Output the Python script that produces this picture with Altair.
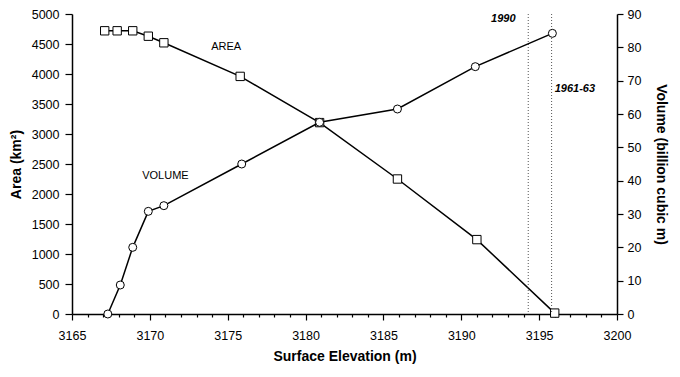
import altair as alt
import pandas as pd

# ---- data ----
area_elev = [3167.1, 3167.9, 3168.9, 3169.9, 3170.9, 3175.8, 3180.9, 3185.9, 3191.0, 3196.0]
area_km2 = [4720, 4720, 4720, 4630, 4520, 3960, 3190, 2250, 1240, 15]

vol_elev = [3167.3, 3168.1, 3168.9, 3169.9, 3170.9, 3175.9, 3180.9, 3185.9, 3190.9, 3195.85]
vol_bcm = [0, 8.7, 20, 30.8, 32.5, 45, 57.5, 61.5, 74.2, 84.2]

ref_elev = [3194.3, 3195.8]

label_text = ["AREA", "VOLUME"]
label_x = [3174.9, 3171.0]
label_y = [4450, 2300]

year_text = ["1990", "1961-63"]
year_x = [3192.7, 3196.0]
year_y = [4910, 3750]
year_align = ["center", "left"]

x_ticks = list(range(3165, 3201))
area_ticks = list(range(0, 5001, 500))
vol_ticks = list(range(0, 91, 10))

FONT = "Liberation Sans"

area_df = pd.DataFrame({"elev": area_elev, "area": area_km2})
vol_df = pd.DataFrame({"elev": vol_elev, "vol": vol_bcm})
ref_df = pd.DataFrame({"elev": ref_elev})
lab_df = pd.DataFrame({"elev": label_x, "area": label_y, "t": label_text})
yr_df = pd.DataFrame({"elev": year_x, "area": year_y, "t": year_text, "a": year_align})

x_scale = alt.Scale(domain=[3165, 3200], nice=False, zero=False)
area_scale = alt.Scale(domain=[0, 5000], nice=False)

x_axis = alt.Axis(
    values=x_ticks,
    labelExpr="datum.value % 5 === 0 ? datum.label : ''",
    format="d",
    tickSize={"condition": {"test": "datum.value % 5 === 0", "value": 6}, "value": 3},
    title="Surface Elevation (m)",
    titleFontSize=14, titleFontWeight="bold", titlePadding=8,
    labelFontSize=12.5, labelPadding=9, grid=False,
    labelOverlap=False, labelFlush=False,
)
area_axis = alt.Axis(values=area_ticks, title="Area (km²)", titleFontSize=14,
                     titleFontWeight="bold", titlePadding=8, labelFontSize=12.5,
                     tickSize=7, labelPadding=6, grid=False, format="d",
                     labelOverlap=False)

xenc = alt.X("elev:Q", scale=x_scale, axis=x_axis)
area_y = alt.Y("area:Q", scale=area_scale, axis=area_axis)

area_line = alt.Chart(area_df).mark_line(color="black", strokeWidth=1.5).encode(x=xenc, y=area_y)
area_pts = alt.Chart(area_df).mark_point(shape="square", filled=True, fill="white",
                                         stroke="black", strokeWidth=1, size=70, opacity=1).encode(x=xenc, y=area_y)

rules = alt.Chart(ref_df).mark_rule(color="#555555", strokeDash=[1, 2], strokeWidth=1).encode(x=xenc)

labels = alt.Chart(lab_df).mark_text(font=FONT, fontSize=11, color="black").encode(
    x=xenc, y=area_y, text="t:N")

years_c = alt.Chart(yr_df[yr_df.a == "center"]).mark_text(
    font=FONT, fontSize=11, fontStyle="italic", fontWeight="bold", color="black", align="center").encode(
    x=xenc, y=area_y, text="t:N")
years_l = alt.Chart(yr_df[yr_df.a == "left"]).mark_text(
    font=FONT, fontSize=11, fontStyle="italic", fontWeight="bold", color="black", align="left").encode(
    x=xenc, y=area_y, text="t:N")

vol_y = alt.Y(
    "vol:Q",
    scale=alt.Scale(domain=[0, 90], nice=False),
    axis=alt.Axis(orient="right", values=vol_ticks, title="Volume (billion cubic m)",
                  titleFontSize=14, titleFontWeight="bold", titlePadding=13,
                  labelFontSize=12.5, tickSize=6, labelPadding=4, grid=False, format="d",
                  labelOverlap=False),
)

vol_line = alt.Chart(vol_df).mark_line(color="black", strokeWidth=1.5).encode(x=xenc, y=vol_y)
vol_pts = alt.Chart(vol_df).mark_point(shape="circle", filled=True, fill="white",
                                       stroke="black", strokeWidth=1, size=64, opacity=1).encode(x=xenc, y=vol_y)

left = alt.layer(area_line, area_pts, rules, labels, years_c, years_l)
right = alt.layer(vol_line, vol_pts)

chart = alt.layer(left, right).resolve_scale(y="independent").properties(
    width=545, height=300,
    padding={"left": 1, "top": 0, "right": 2, "bottom": 0},
    background="white",
).configure_view(stroke=None).configure_axis(
    labelFont=FONT, titleFont=FONT, labelColor="black", titleColor="black",
    domainColor="black", tickColor="black", domainWidth=1.5, tickWidth=1.2,
)

chart.save("out.html", embed_options={"renderer": "svg", "actions": False})
